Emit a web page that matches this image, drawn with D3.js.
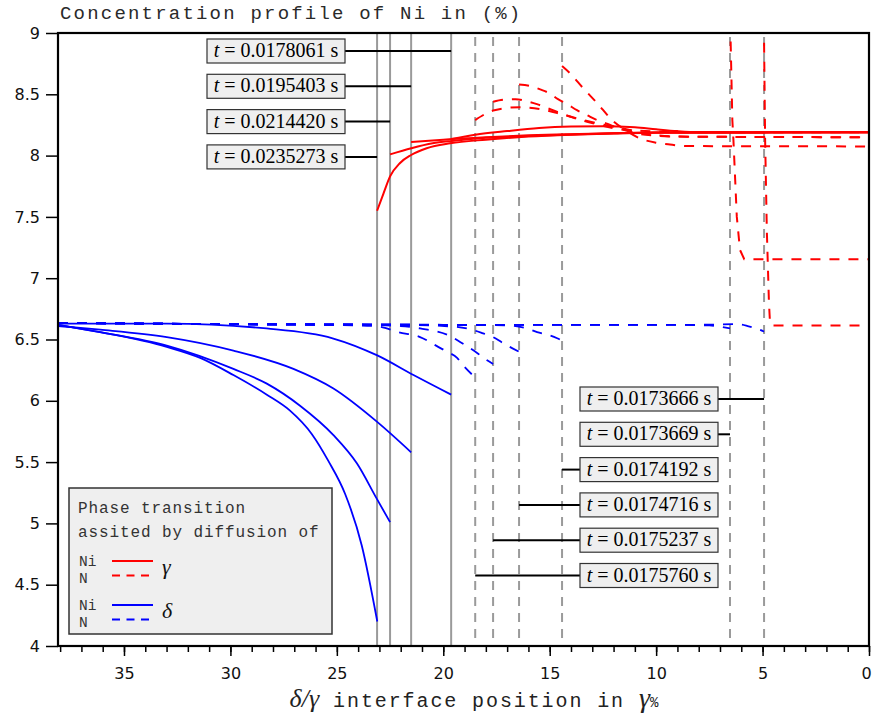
<!DOCTYPE html>
<html><head><meta charset="utf-8">
<script src="https://cdn.jsdelivr.net/npm/d3@7"></script>
<style>body{margin:0;background:#fff;} svg{display:block}</style>
</head><body><svg id="c" width="873" height="718"></svg>
<script>
// ---------------- data ----------------
const titleText = "Concentration profile of Ni in (%)";
const yTicks = [4, 4.5, 5, 5.5, 6, 6.5, 7, 7.5, 8, 8.5, 9];
const xTicks = [0, 5, 10, 15, 20, 25, 30, 35];
const xMinorTicks = d3.range(0, 39, 1);

// runs with Ni diffusion (solid)
const niTimes = ["0.0178061", "0.0195403", "0.0214420", "0.0235273"];
const niInterface = [19.63, 21.51, 22.5, 23.11];
const niGamma = [
  [[19.63,8.135],[18.5,8.17],[17,8.2],[15.5,8.225],[14,8.237],[12.5,8.24],[11,8.232],[10,8.215],[9,8.2],[8,8.192],[0,8.19]],
  [[21.51,8.11],[20,8.13],[18,8.15],[16,8.165],[14,8.175],[12,8.183],[10,8.188],[0,8.19]],
  [[22.5,8.01],[21.5,8.06],[20.5,8.1],[19.6,8.12],[18,8.145],[16,8.16],[14,8.172],[12,8.182],[10,8.188],[0,8.19]],
  [[23.11,7.55],[22.81,7.69],[22.5,7.83],[22.03,7.94],[21.51,8.005],[20.78,8.06],[19.68,8.1],[18,8.13],[16,8.155],[14,8.17],[12,8.18],[10,8.187],[0,8.19]]
];
const niDelta = [
  [[38.1,6.63],[33,6.63],[28.3,6.59],[25.2,6.51],[23.1,6.37],[21.4,6.21],[19.63,6.05]],
  [[38.1,6.61],[36.12,6.58],[32.99,6.52],[29.86,6.41],[27.04,6.26],[25.16,6.1],[23.12,5.83],[21.51,5.58]],
  [[38.1,6.62],[36.12,6.56],[32.99,6.45],[29.86,6.26],[28.29,6.14],[26.73,5.96],[25.16,5.72],[24.06,5.49],[23.12,5.2],[22.5,5.01]],
  [[38.1,6.62],[36.12,6.56],[32.99,6.44],[31.42,6.35],[29.86,6.21],[28.29,6.05],[27.2,5.92],[26.18,5.73],[25.4,5.51],[24.61,5.24],[23.83,4.82],[23.1,4.2]]
];

// runs with N diffusion (dashed)
const nTimes = ["0.0173666", "0.0173669", "0.0174192", "0.0174716", "0.0175237", "0.0175760"];
const nInterface = [4.93, 6.53, 14.42, 16.44, 17.66, 18.5];
const nGamma = [
  [[4.93,8.92],[4.88,8.13],[4.8,7.39],[4.7,6.8],[4.65,6.635],[4.57,6.615],[0,6.615]],
  [[6.5,8.93],[6.42,8.29],[6.37,8.13],[6.21,7.5],[6.06,7.23],[5.86,7.155],[0,7.155]],
  [[14.42,8.73],[14.04,8.67],[13.43,8.55],[12.78,8.43],[12.07,8.29],[11.46,8.21],[10.76,8.14],[10,8.105],[9.35,8.09],[8.5,8.078],[0,8.075]],
  [[16.44,8.58],[15.97,8.57],[15.45,8.54],[15.03,8.51],[14.61,8.46],[14.18,8.42],[13.72,8.37],[13.25,8.33],[12.78,8.29],[12.31,8.26],[11.7,8.22],[10.5,8.17],[9,8.155],[0,8.15]],
  [[17.66,8.44],[17.2,8.455],[16.6,8.46],[16.0,8.44],[15.6,8.42],[14.85,8.37],[13.9,8.31],[12.9,8.26],[11.9,8.22],[10.5,8.2],[9,8.19],[0,8.19]],
  [[18.5,8.29],[17.6,8.37],[16.4,8.395],[15.3,8.375],[14.3,8.33],[13.4,8.29],[12.4,8.25],[11.5,8.22],[10.5,8.18],[9,8.155],[0,8.15]]
];
const nDelta = [
  [[38.1,6.635],[20,6.62],[8,6.62],[6.2,6.625],[5.7,6.61],[5.3,6.59],[4.93,6.565]],
  [[38.1,6.635],[20,6.62],[10,6.62],[7.5,6.615],[7.0,6.605],[6.53,6.59]],
  [[38.1,6.635],[30,6.625],[20,6.62],[17,6.615],[16.06,6.59],[15.59,6.56],[15.12,6.54],[14.65,6.51],[14.42,6.49]],
  [[38.1,6.635],[30,6.625],[22,6.62],[19.5,6.605],[18.65,6.58],[18.13,6.55],[17.66,6.52],[17.19,6.47],[16.77,6.43],[16.44,6.40]],
  [[38.1,6.635],[30,6.625],[24,6.62],[22,6.61],[21.09,6.59],[19.7,6.53],[19.21,6.48],[18.41,6.39],[17.94,6.33],[17.66,6.30]],
  [[38.1,6.635],[30,6.625],[24,6.615],[23,6.605],[22.12,6.56],[21.09,6.52],[20.24,6.44],[19.82,6.40],[19.35,6.35],[19.07,6.29],[18.5,6.19]]
];

const legendTitle = ["Phase transition", "assited by diffusion of"];
const legendSpecies = ["Ni", "N"];

// ---------------- layout ----------------
const svg = d3.select("#c");
const L = 58, R = 869, T = 33, B = 646;
const x = d3.scaleLinear().domain([38.1, 0]).range([L, R]);
const y = d3.scaleLinear().domain([4, 9]).range([B, T]);
const RED = "#ff0000", BLUE = "#0000ff", GRAY = "#9a9a9a";
const DASH = "10,9";
const mono = "'Liberation Mono', 'DejaVu Sans Mono', monospace";
const serif = "'Liberation Serif', 'DejaVu Serif', serif";

svg.append("defs").append("clipPath").attr("id", "clip")
  .append("rect").attr("x", L).attr("y", T).attr("width", R - L).attr("height", B - T);

// title
svg.append("text").attr("x", 60).attr("y", 19)
  .style("font-family", mono).style("font-size", "19px").style("letter-spacing", "2.2px")
  .attr("fill", "#2a2a2a").text(titleText);

const plot = svg.append("g").attr("clip-path", "url(#clip)");

// interface lines
plot.selectAll("line.ni").data(niInterface).join("line")
  .attr("x1", d => x(d)).attr("x2", d => x(d)).attr("y1", T).attr("y2", B)
  .attr("stroke", GRAY).attr("stroke-width", 2);
plot.selectAll("line.n").data(nInterface).join("line")
  .attr("x1", d => x(d)).attr("x2", d => x(d)).attr("y1", T + 4).attr("y2", B)
  .attr("stroke", GRAY).attr("stroke-width", 2).attr("stroke-dasharray", "9,7");

// x scale is reversed, so pixel x increases along each array -> monotoneX is valid
const line = d3.line().x(d => x(d[0])).y(d => y(d[1])).curve(d3.curveMonotoneX);
const lineLin = d3.line().x(d => x(d[0])).y(d => y(d[1]));

// delta curves
niDelta.forEach(c => plot.append("path").attr("d", line(c)).attr("fill", "none")
  .attr("stroke", BLUE).attr("stroke-width", 1.8));
nDelta.forEach(c => plot.append("path").attr("d", line(c)).attr("fill", "none")
  .attr("stroke", BLUE).attr("stroke-width", 1.8).attr("stroke-dasharray", DASH));
// gamma curves
niGamma.forEach(c => plot.append("path").attr("d", line(c)).attr("fill", "none")
  .attr("stroke", RED).attr("stroke-width", 2));
nGamma.forEach((c, i) => plot.append("path").attr("d", i < 2 ? lineLin(c) : line(c)).attr("fill", "none")
  .attr("stroke", RED).attr("stroke-width", 2).attr("stroke-dasharray", DASH));

// annotation boxes
function tLabel(g, cx, cy, t) {
  const bw = 138, bh = 24;
  g.append("rect").attr("x", cx).attr("y", cy - bh / 2).attr("width", bw).attr("height", bh)
    .attr("fill", "#efefef").attr("stroke", "#333").attr("stroke-width", 1.2);
  const tx = g.append("text").attr("x", cx + bw / 2).attr("y", cy + 6).attr("text-anchor", "middle")
    .style("font-family", serif).style("font-size", "20px").attr("fill", "#000");
  tx.append("tspan").style("font-style", "italic").text("t");
  tx.append("tspan").text(" = " + t + " s");
}
const ann = svg.append("g");
const leftBoxX = 207, rightBoxX = 580, boxW = 138;
niTimes.forEach((t, i) => {
  const cy = 51 + i * 35.3;
  ann.append("line").attr("x1", leftBoxX + boxW).attr("x2", x(niInterface[i])).attr("y1", cy).attr("y2", cy)
    .attr("stroke", "#000").attr("stroke-width", 2);
  tLabel(ann, leftBoxX, cy, t);
});
nTimes.forEach((t, i) => {
  const cy = 399 + i * 35.3;
  const xi = x(nInterface[i]);
  const x1 = xi > rightBoxX + boxW ? rightBoxX + boxW : rightBoxX;
  ann.append("line").attr("x1", x1).attr("x2", xi).attr("y1", cy).attr("y2", cy)
    .attr("stroke", "#000").attr("stroke-width", 2);
  tLabel(ann, rightBoxX, cy, t);
});

// legend
const lg = svg.append("g");
lg.append("rect").attr("x", 69).attr("y", 488).attr("width", 263).attr("height", 146)
  .attr("fill", "#efefef").attr("stroke", "#333").attr("stroke-width", 1.5);
legendTitle.forEach((s, i) => lg.append("text").attr("x", 78).attr("y", 513 + i * 24)
  .style("font-family", mono).style("font-size", "16px").style("letter-spacing", "0.9px")
  .attr("fill", "#333").text(s));
[[RED, 561, "γ"], [BLUE, 605, "δ"]].forEach(([col, yy, sym]) => {
  legendSpecies.forEach((s, j) => lg.append("text").attr("x", 79).attr("y", yy + 5 + j * 16.5)
    .style("font-family", mono).style("font-size", "14.5px").attr("fill", "#333").text(s));
  lg.append("line").attr("x1", 112).attr("x2", 153).attr("y1", yy).attr("y2", yy)
    .attr("stroke", col).attr("stroke-width", 1.8);
  lg.append("line").attr("x1", 112).attr("x2", 153).attr("y1", yy + 14.5).attr("y2", yy + 14.5)
    .attr("stroke", col).attr("stroke-width", 1.8).attr("stroke-dasharray", "8,6.5");
  lg.append("text").attr("x", 162).attr("y", yy + 13).style("font-family", serif)
    .style("font-style", "italic").style("font-size", "22px").attr("fill", "#111").text(sym);
});

// axes
const yAxis = svg.append("g").attr("transform", `translate(${L},0)`)
  .call(d3.axisLeft(y).tickValues(yTicks).tickSize(12).tickPadding(6).tickFormat(d => String(d)));
yAxis.select(".domain").remove();
yAxis.selectAll("line").attr("stroke-width", 1.5);
yAxis.selectAll("text").style("font-family", "'DejaVu Sans', sans-serif").style("font-size", "16px").attr("fill", "#111");

const xMinor = svg.append("g").attr("transform", `translate(0,${B})`)
  .call(d3.axisBottom(x).tickValues(xMinorTicks).tickSize(6).tickFormat(""));
xMinor.select(".domain").remove();
xMinor.selectAll("line").attr("stroke-width", 1.5);
const xAxis = svg.append("g").attr("transform", `translate(0,${B})`)
  .call(d3.axisBottom(x).tickValues(xTicks).tickSize(10).tickPadding(12).tickFormat(d => String(d)));
xAxis.select(".domain").remove();
xAxis.selectAll("line").attr("stroke-width", 1.5);
xAxis.selectAll("text").style("font-family", "'DejaVu Sans', sans-serif").style("font-size", "16px").attr("fill", "#111")
  .attr("dx", d => d === 0 ? -3 : 0);

// frame
svg.append("rect").attr("x", L).attr("y", T).attr("width", R - L).attr("height", B - T)
  .attr("fill", "none").attr("stroke", "#000").attr("stroke-width", 2.2);

// x label
const xl = svg.append("text").attr("x", 474).attr("y", 707).attr("text-anchor", "middle").attr("fill", "#222");
xl.append("tspan").style("font-family", serif).style("font-style", "italic").style("font-size", "26px").text("δ/γ");
xl.append("tspan").style("font-family", mono).style("font-size", "20px").style("letter-spacing", "1.9px").text(" interface position in ");
xl.append("tspan").style("font-family", serif).style("font-style", "italic").style("font-size", "28px").text("γ");
xl.append("tspan").style("font-family", mono).style("font-size", "14px").text("%");
</script></body></html>
